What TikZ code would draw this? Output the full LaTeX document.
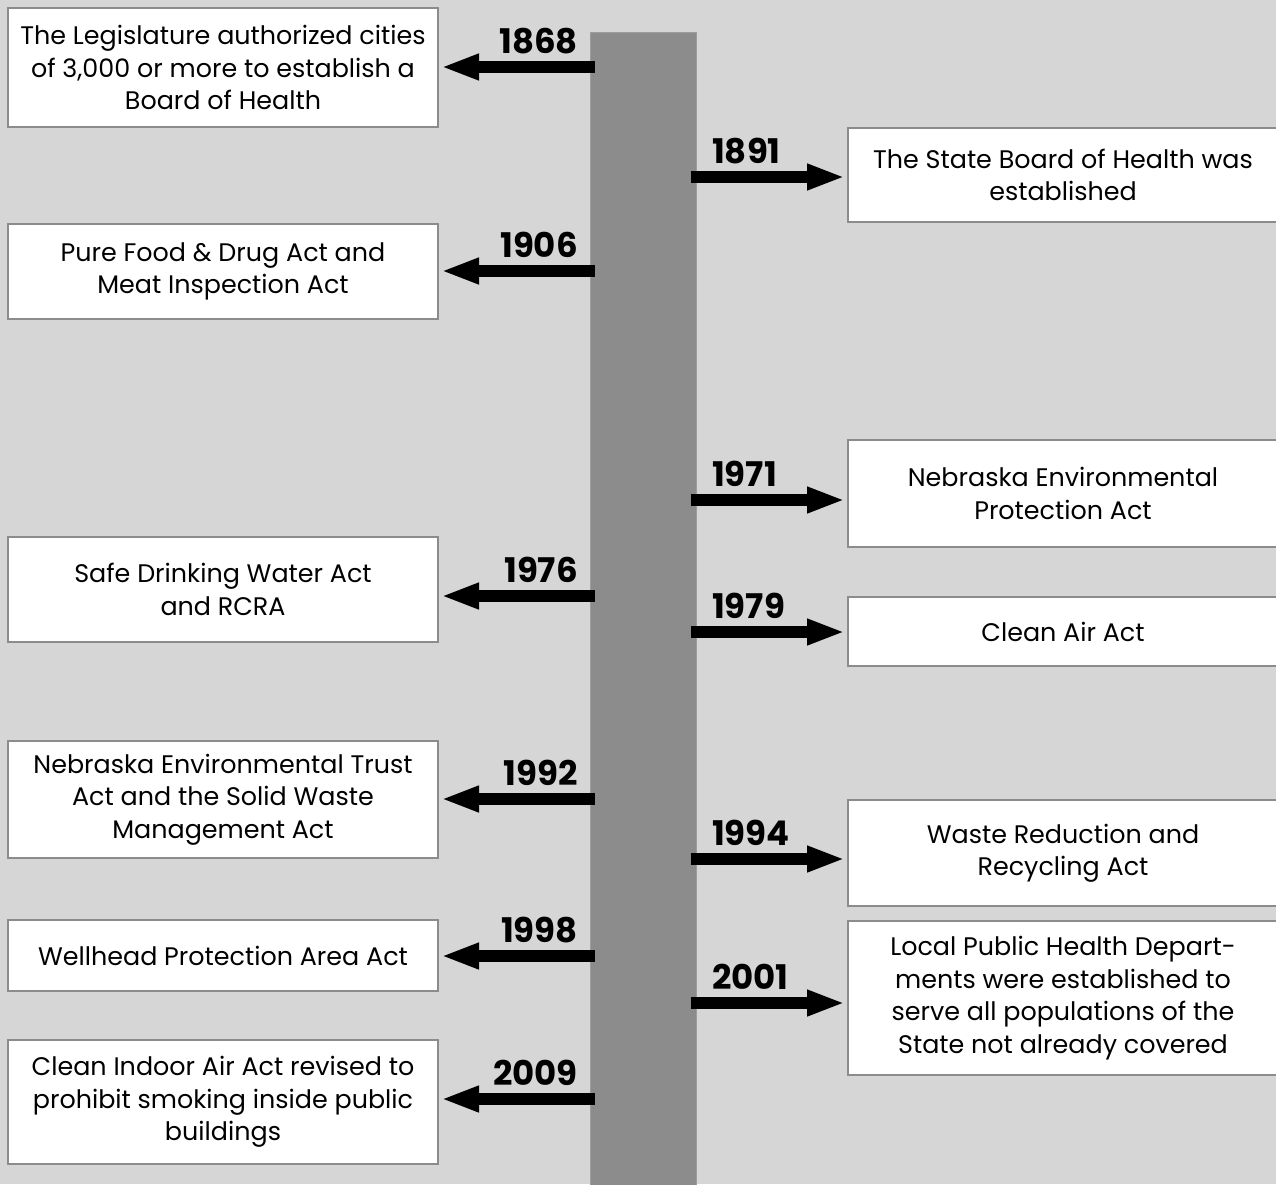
\documentclass[tikz,border=0pt]{standalone}
\usepackage{fontspec}
\setmainfont{Poppins}
\usetikzlibrary{arrows.meta}
\definecolor{bg}{RGB}{214,214,214}
\definecolor{barc}{RGB}{140,140,140}
\definecolor{boxline}{RGB}{140,140,140}
\tikzset{
  evbox/.style={draw=boxline, line width=2pt, fill=white, align=center, inner sep=0pt,
    minimum width=430pt, font=\fontsize{25.4}{32.5}\selectfont},
  yearlbl/.style={font=\fontsize{34}{36}\selectfont\bfseries, inner sep=0pt},
  evarrow/.style={line width=12pt, -{Triangle[length=38pt,width=24pt]}},
}
\begin{document}
\begin{tikzpicture}[x=1pt,y=-1pt]
\clip (0,0) rectangle (1276,1184);
\fill[bg] (0,0) rectangle (1276,1184);
\node[fill=barc, draw=barc!85!white, line width=1pt, minimum width=106pt, minimum height=1160pt, inner sep=0pt, anchor=north] (bar) at (643,32) {};
% left boxes
\node[evbox, minimum height=119pt] (L1) at (223,67.5) {The Legislature authorized cities\\of 3,000 or more to establish a\\Board of Health};
\node[evbox, minimum height=95pt] (L2) at (223,271.5) {Pure Food \& Drug Act and\\Meat Inspection Act};
\node[evbox, minimum height=105pt] (L3) at (223,589.5) {Safe Drinking Water Act\\and RCRA};
\node[evbox, minimum height=117pt] (L4) at (223,799.5) {Nebraska Environmental Trust\\Act and the Solid Waste\\Management Act};
\node[evbox, minimum height=71pt] (L5) at (223,955.5) {Wellhead Protection Area Act};
\node[evbox, minimum height=124pt] (L6) at (223,1102) {Clean Indoor Air Act revised to\\prohibit smoking inside public\\buildings};
% right boxes
\node[evbox, minimum height=94pt] (R1) at (1063,175) {The State Board of Health was\\established};
\node[evbox, minimum height=107pt] (R2) at (1063,493.5) {Nebraska Environmental\\Protection Act};
\node[evbox, minimum height=69pt] (R3) at (1063,631.5) {Clean Air Act};
\node[evbox, minimum height=106pt] (R4) at (1063,853) {Waste Reduction and\\Recycling Act};
\node[evbox, minimum height=154pt] (R5) at (1063,998) {Local Public Health Depart-\\ments were established to\\serve all populations of the\\State not already covered};
% left arrows
\draw[evarrow] ([xshift=5pt]bar.west |- 0,67) -- ([xshift=2pt]L1.east |- 0,67);
\draw[evarrow] ([xshift=5pt]bar.west |- 0,271) -- ([xshift=2pt]L2.east |- 0,271);
\draw[evarrow] ([xshift=5pt]bar.west |- 0,596) -- ([xshift=2pt]L3.east |- 0,596);
\draw[evarrow] ([xshift=5pt]bar.west |- 0,799) -- ([xshift=2pt]L4.east |- 0,799);
\draw[evarrow] ([xshift=5pt]bar.west |- 0,956) -- ([xshift=2pt]L5.east |- 0,956);
\draw[evarrow] ([xshift=5pt]bar.west |- 0,1099) -- ([xshift=2pt]L6.east |- 0,1099);
% right arrows
\draw[evarrow] ([xshift=-6pt]bar.east |- 0,177) -- ([xshift=-2pt]R1.west |- 0,177);
\draw[evarrow] ([xshift=-6pt]bar.east |- 0,500) -- ([xshift=-2pt]R2.west |- 0,500);
\draw[evarrow] ([xshift=-6pt]bar.east |- 0,632) -- ([xshift=-2pt]R3.west |- 0,632);
\draw[evarrow] ([xshift=-6pt]bar.east |- 0,859) -- ([xshift=-2pt]R4.west |- 0,859);
\draw[evarrow] ([xshift=-6pt]bar.east |- 0,1003) -- ([xshift=-2pt]R5.west |- 0,1003);
% year labels
\node[yearlbl, anchor=base east] (y1868) at (578,53) {1868};
\node[yearlbl, anchor=base east] (y1906) at (578,257) {1906};
\node[yearlbl, anchor=base east] (y1976) at (578,582) {1976};
\node[yearlbl, anchor=base east] (y1992) at (578,785) {1992};
\node[yearlbl, anchor=base east] (y1998) at (578,942) {1998};
\node[yearlbl, anchor=base east] (y2009) at (578,1085) {2009};
\node[yearlbl, anchor=base west] (y1891) at (712,163) {1891};
\node[yearlbl, anchor=base west] (y1971) at (712,486) {1971};
\node[yearlbl, anchor=base west] (y1979) at (712,618) {1979};
\node[yearlbl, anchor=base west] (y1994) at (712,845) {1994};
\node[yearlbl, anchor=base west] (y2001) at (712,989) {2001};
\end{tikzpicture}
\end{document}
